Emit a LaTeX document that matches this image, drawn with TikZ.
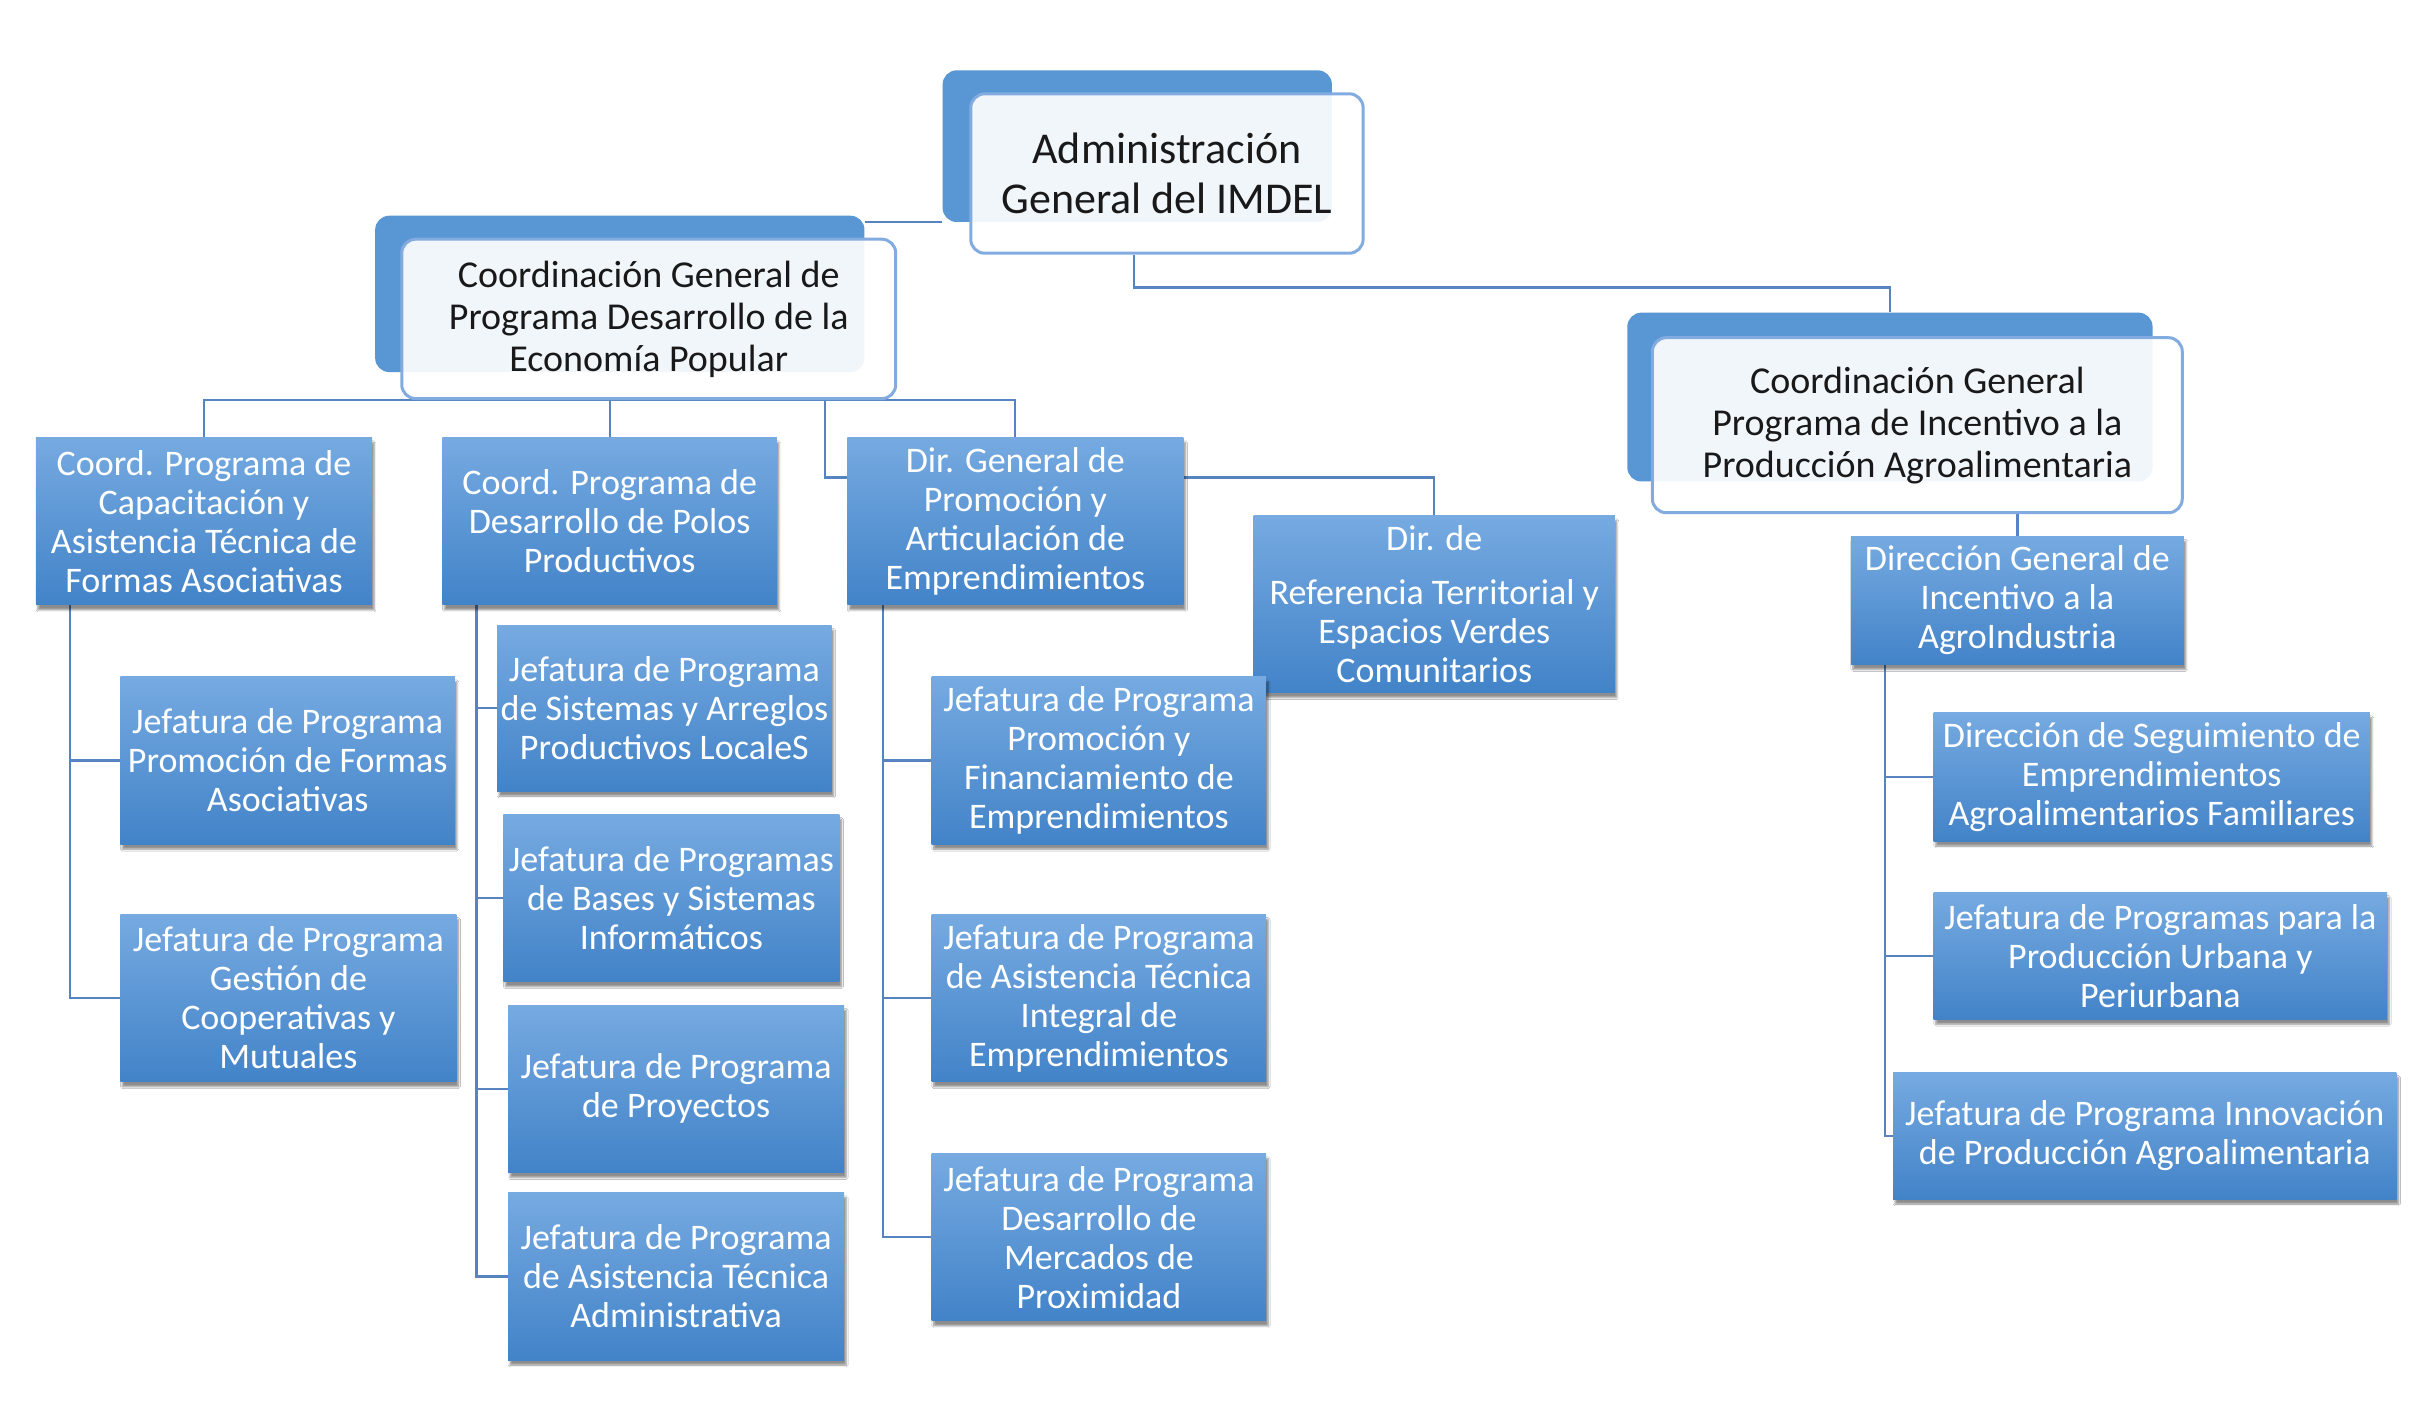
\documentclass[tikz,border=0pt]{standalone}
\usepackage{fontspec}
\setmainfont{Carlito}
\usetikzlibrary{shadows.blur,backgrounds}
\definecolor{boxtop}{RGB}{118,170,225}
\definecolor{boxbot}{RGB}{66,131,200}
\definecolor{backblue}{RGB}{88,150,212}
\definecolor{frontline}{RGB}{130,172,224}
\definecolor{connblue}{RGB}{86,132,192}
\definecolor{darktext}{RGB}{25,25,25}
\tikzset{
  corners/.style n args={4}{at={({(#1+#3)/2},{(#2+#4)/2})}, anchor=center,
    minimum width={(#3-#1)*1.5632pt}, minimum height={(#4-#2)*1.5632pt}},
  bluebox/.style={inner sep=0pt, top color=boxtop, bottom color=boxbot, text=white,
    align=center, font=\fontsize{36}{39}\selectfont,
    blur shadow={shadow xshift=2pt, shadow yshift=-5pt, shadow opacity=45, shadow blur steps=6}},
  backbox/.style={inner sep=0pt, fill=backblue, rounded corners=14pt},
  frontbox/.style={inner sep=0pt, draw=frontline, line width=3pt, fill=white,
    fill opacity=0.92, text opacity=1, rounded corners=14pt, text=darktext, align=center,
    font=\fontsize{38}{42}\selectfont},
  conn/.style={draw=connblue, line width=2.3pt},
}
\begin{document}
\begin{tikzpicture}[x=1.5632pt, y=-1.5632pt]
\useasboundingbox (0,0) rectangle (1550,897.5);

% top level boxes
\node[backbox, corners={603}{45}{852}{142}] (admback) {};
\node[frontbox, corners={621}{60}{872}{162}, font=\fontsize{44}{50}\selectfont] (adm) {Administración\\General del IMDEL};

\node[backbox, corners={240}{138}{553}{238}] (epback) {};
\node[frontbox, corners={257}{153}{573}{255}] (ep) {Coordinación General de\\Programa Desarrollo de la\\Economía Popular};

\node[backbox, corners={1041}{200}{1377}{308}] (piaback) {};
\node[frontbox, corners={1057}{216}{1396}{328}] (pia) {Coordinación General\\Programa de Incentivo a la\\Producción Agroalimentaria};

% second level
\node[bluebox, corners={23}{280}{238}{387}] (a1) {Coord. Programa de\\Capacitación y\\Asistencia Técnica de\\Formas Asociativas};
\node[bluebox, corners={283}{280}{497}{387}] (a2) {Coord. Programa de\\Desarrollo de Polos\\Productivos};
\node[bluebox, corners={542}{280}{757}{387}] (a3) {Dir. General de\\Promoción y\\Articulación de\\Emprendimientos};
\node[bluebox, corners={802}{330}{1033}{443}] (a4) {Dir. de\\[15pt]Referencia Territorial y\\Espacios Verdes\\Comunitarios};

% children of a1
\node[bluebox, corners={77}{433}{291}{540}] (b1) {Jefatura de Programa\\Promoción de Formas\\Asociativas};
\node[bluebox, corners={77}{585}{292}{692}] (b2) {Jefatura de Programa\\Gestión de\\Cooperativas y\\Mutuales};

% children of a2
\node[bluebox, corners={318}{400}{532}{506}] (c1) {Jefatura de Programa\\de Sistemas y Arreglos\\Productivos LocaleS};
\node[bluebox, corners={322}{521}{537}{628}] (c2) {Jefatura de Programas\\de Bases y Sistemas\\Informáticos};
\node[bluebox, corners={325}{643}{540}{750}] (c3) {Jefatura de Programa\\de Proyectos};
\node[bluebox, corners={325}{763}{540}{870}] (c4) {Jefatura de Programa\\de Asistencia Técnica\\Administrativa};

% children of a3
\node[bluebox, corners={596}{433}{810}{540}] (d1) {Jefatura de Programa\\Promoción y\\Financiamiento de\\Emprendimientos};
\node[bluebox, corners={596}{585}{810}{692}] (d2) {Jefatura de Programa\\de Asistencia Técnica\\Integral de\\Emprendimientos};
\node[bluebox, corners={596}{738}{810}{845}] (d3) {Jefatura de Programa\\Desarrollo de\\Mercados de\\Proximidad};

% right branch
\node[bluebox, corners={1184}{343}{1397}{425}] (e) {Dirección General de\\Incentivo a la\\AgroIndustria};
\node[bluebox, corners={1237}{456}{1516}{538}] (f1) {Dirección de Seguimiento de\\Emprendimientos\\Agroalimentarios Familiares};
\node[bluebox, corners={1237}{571}{1527}{652}] (f2) {Jefatura de Programas para la\\Producción Urbana y\\Periurbana};
\node[bluebox, corners={1211}{686}{1533}{767}] (f3) {Jefatura de Programa Innovación\\de Producción Agroalimentaria};

\begin{pgfonlayer}{background}
\fill[white] (0,0) rectangle (1550,897.5);
% top connectors
\draw[conn] (admback.south west) -- (admback.south west -| epback.east);
\draw[conn] ([xshift=-33pt]adm.south) -- ++(0,21) -| (piaback.north);
% EP bus
\draw[conn] (a1.north) -- (a1.north |- ep.south) -- (a3.north |- ep.south) -- (a3.north);
\draw[conn] (a2.north) -- (a2.north |- ep.south);
\draw[conn] ([yshift=43.8pt]a3.west) -- ++(-14,0) -- ++(0,-50);
% a3 to a4
\draw[conn] ([yshift=43.8pt]a3.east) -| (a4.north);
% a1 spine
\draw[conn] ([xshift=34.4pt]a1.south west) |- (b2.west);
\draw[conn] (b1.west) -| ([xshift=34.4pt]a1.south west);
% a2 spine
\draw[conn] ([xshift=34.4pt]a2.south west) |- (c4.west);
\draw[conn] (c1.west) -| ([xshift=34.4pt]a2.south west);
\draw[conn] (c2.west) -| ([xshift=34.4pt]a2.south west);
\draw[conn] (c3.west) -| ([xshift=34.4pt]a2.south west);
% a3 spine
\draw[conn] ([xshift=36pt]a3.south west) |- (d3.west);
\draw[conn] (d1.west) -| ([xshift=36pt]a3.south west);
\draw[conn] (d2.west) -| ([xshift=36pt]a3.south west);
% pia to e
\draw[conn] (e.north) -- (e.north |- pia.south);
% e spine
\draw[conn] ([xshift=34.4pt]e.south west) |- (f3.west);
\draw[conn] (f1.west) -| ([xshift=34.4pt]e.south west);
\draw[conn] (f2.west) -| ([xshift=34.4pt]e.south west);
\end{pgfonlayer}
\end{tikzpicture}
\end{document}
